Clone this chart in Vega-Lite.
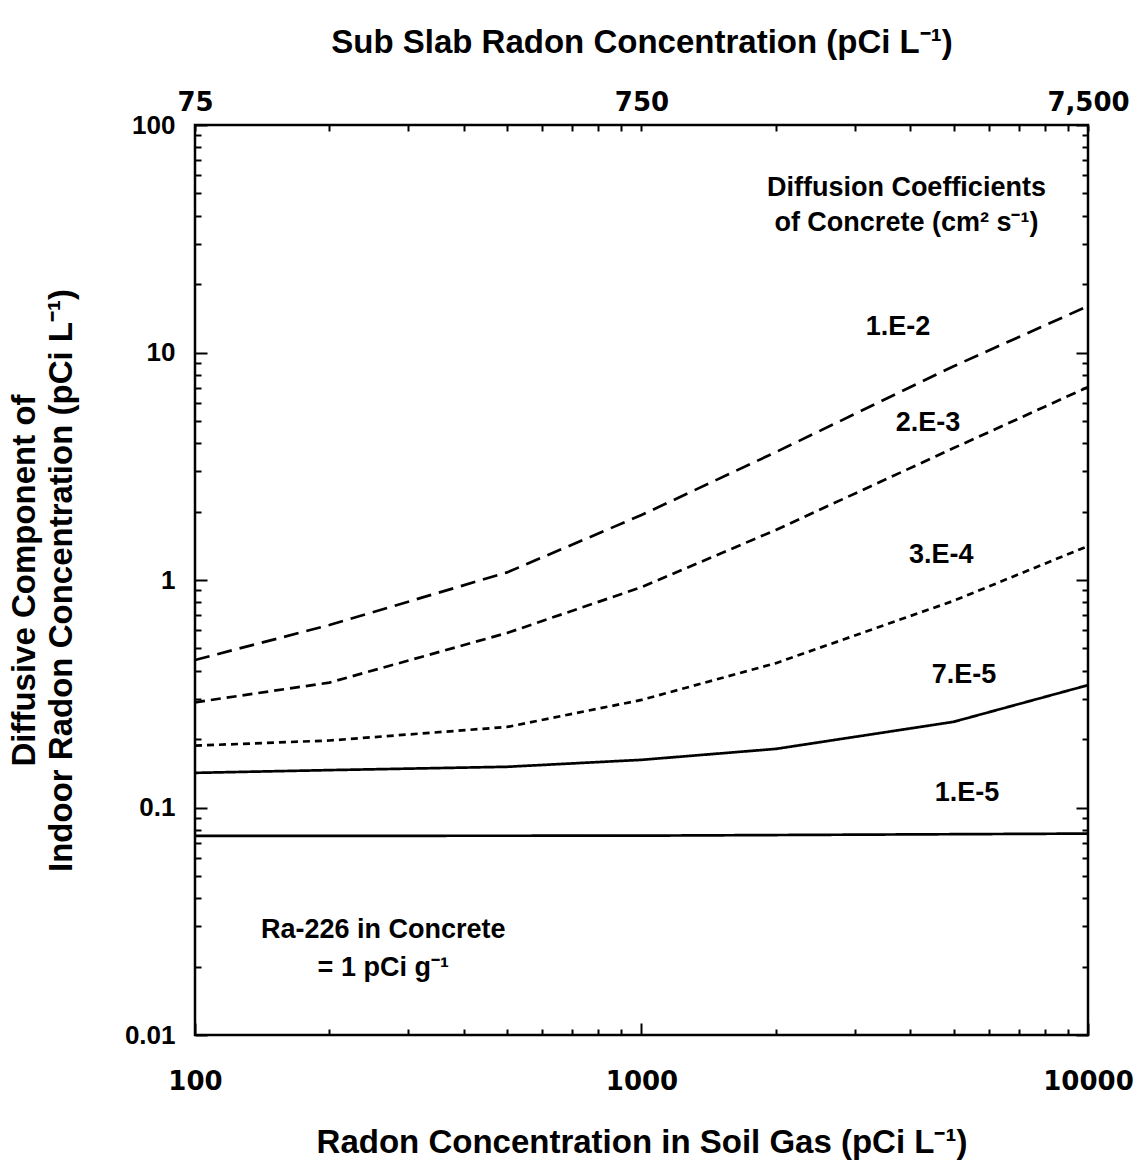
{
  "$schema": "https://vega.github.io/schema/vega-lite/v6.json",
  "width": 893,
  "height": 910,
  "autosize": {"type": "none"},
  "padding": {"left": 195, "top": 125, "right": 57, "bottom": 137},
  "background": "white",
  "config": {
    "view": {"stroke": "black", "strokeWidth": 2.5},
    "font": "Liberation Sans",
    "axis": {
      "domain": false,
      "grid": false,
      "tickColor": "black",
      "tickWidth": 2,
      "labelFont": "Liberation Sans",
      "labelFontWeight": "bold",
      "labelFontSize": 26,
      "labelColor": "black",
      "labelOverlap": false,
      "labelFlush": false,
      "titleFont": "Liberation Sans",
      "titleFontWeight": "bold",
      "titleFontSize": 33,
      "titleColor": "black"
    }
  },
  "datasets": {
    "curves": [
      {"series": "1.E-2", "x": 100, "y": 0.445},
      {"series": "1.E-2", "x": 200, "y": 0.634},
      {"series": "1.E-2", "x": 500, "y": 1.08},
      {"series": "1.E-2", "x": 1000, "y": 1.93},
      {"series": "1.E-2", "x": 2000, "y": 3.65},
      {"series": "1.E-2", "x": 5000, "y": 8.7},
      {"series": "1.E-2", "x": 10000, "y": 16.0},
      {"series": "2.E-3", "x": 100, "y": 0.29},
      {"series": "2.E-3", "x": 200, "y": 0.354},
      {"series": "2.E-3", "x": 500, "y": 0.585},
      {"series": "2.E-3", "x": 1000, "y": 0.93},
      {"series": "2.E-3", "x": 2000, "y": 1.66},
      {"series": "2.E-3", "x": 5000, "y": 3.8},
      {"series": "2.E-3", "x": 10000, "y": 7.05},
      {"series": "3.E-4", "x": 100, "y": 0.187},
      {"series": "3.E-4", "x": 200, "y": 0.197},
      {"series": "3.E-4", "x": 500, "y": 0.226},
      {"series": "3.E-4", "x": 1000, "y": 0.297},
      {"series": "3.E-4", "x": 2000, "y": 0.431},
      {"series": "3.E-4", "x": 5000, "y": 0.81},
      {"series": "3.E-4", "x": 10000, "y": 1.41},
      {"series": "7.E-5", "x": 100, "y": 0.142},
      {"series": "7.E-5", "x": 200, "y": 0.146},
      {"series": "7.E-5", "x": 500, "y": 0.151},
      {"series": "7.E-5", "x": 1000, "y": 0.162},
      {"series": "7.E-5", "x": 2000, "y": 0.181},
      {"series": "7.E-5", "x": 5000, "y": 0.238},
      {"series": "7.E-5", "x": 10000, "y": 0.345},
      {"series": "1.E-5", "x": 100, "y": 0.075},
      {"series": "1.E-5", "x": 1000, "y": 0.0752},
      {"series": "1.E-5", "x": 10000, "y": 0.0768}
    ],
    "notes": [
      {"text": "1.E-2", "x": 3754, "y": 12.9},
      {"text": "2.E-3", "x": 4383, "y": 4.9},
      {"text": "3.E-4", "x": 4690, "y": 1.29},
      {"text": "7.E-5", "x": 5277, "y": 0.382},
      {"text": "1.E-5", "x": 5357, "y": 0.116},
      {"text": "Diffusion Coefficients", "x": 3920, "y": 52.8},
      {"text": "of Concrete (cm² s⁻¹)", "x": 3920, "y": 37.1},
      {"text": "Ra-226 in Concrete", "x": 264, "y": 0.029},
      {"text": "= 1 pCi g⁻¹", "x": 264, "y": 0.0197}
    ]
  },
  "layer": [
    {
      "data": {"name": "curves"},
      "mark": {"type": "line", "color": "black", "strokeWidth": 2.7},
      "encoding": {
        "x": {
          "field": "x", "type": "quantitative",
          "scale": {"type": "log", "domain": [100, 10000], "nice": false},
          "axis": {
            "orient": "bottom",
            "title": "Radon Concentration in Soil Gas (pCi L⁻¹)",
            "values": [100, 200, 300, 400, 500, 600, 700, 800, 900, 1000, 2000, 3000, 4000, 5000, 6000, 7000, 8000, 9000, 10000],
            "labelExpr": "datum.value == 100 ? '100' : datum.value == 1000 ? '1000' : datum.value == 10000 ? '10000' : ''",
            "labelFont": "DejaVu Sans",
            "tickSize": {"condition": {"test": "indexof([100,1000,10000], datum.value) >= 0", "value": -12}, "value": -6},
            "labelPadding": 45,
            "titlePadding": 26
          }
        },
        "y": {
          "field": "y", "type": "quantitative",
          "scale": {"type": "log", "domain": [0.01, 100], "nice": false},
          "axis": {
            "orient": "left",
            "title": ["Diffusive Component of", "Indoor Radon Concentration (pCi L⁻¹)"],
            "titleLineHeight": 37,
            "values": [0.01, 0.02, 0.03, 0.04, 0.05, 0.06, 0.07, 0.08, 0.09, 0.1, 0.2, 0.3, 0.4, 0.5, 0.6, 0.7, 0.8, 0.9, 1, 2, 3, 4, 5, 6, 7, 8, 9, 10, 20, 30, 40, 50, 60, 70, 80, 90, 100],
            "labelExpr": "datum.value == 100 ? '100' : datum.value == 10 ? '10' : datum.value == 1 ? '1' : datum.value == 0.1 ? '0.1' : datum.value == 0.01 ? '0.01' : ''",
            "tickSize": {"condition": {"test": "indexof([0.01,0.1,1,10,100], datum.value) >= 0", "value": -12}, "value": -6},
            "labelPadding": 32,
            "titlePadding": 46
          }
        },
        "detail": {"field": "series"},
        "strokeDash": {
          "field": "series", "type": "nominal",
          "scale": {
            "domain": ["1.E-2", "2.E-3", "3.E-4", "7.E-5", "1.E-5"],
            "range": [[15, 8], [10, 6], [7, 5], [1, 0], [1, 0]]
          },
          "legend": null
        }
      }
    },
    {
      "data": {"name": "notes"},
      "mark": {"type": "text", "font": "Liberation Sans", "fontWeight": "bold", "fontSize": 27, "color": "black", "align": "center", "baseline": "middle"},
      "encoding": {
        "x": {
          "field": "x", "type": "quantitative",
          "axis": {
            "orient": "top",
            "title": "Sub Slab Radon Concentration (pCi L⁻¹)",
            "values": [100, 200, 300, 400, 500, 600, 700, 800, 900, 1000, 2000, 3000, 4000, 5000, 6000, 7000, 8000, 9000, 10000],
            "labelExpr": "datum.value == 100 ? '75' : datum.value == 1000 ? '750' : datum.value == 10000 ? '7,500' : ''",
            "labelFont": "DejaVu Sans",
            "tickSize": -6,
            "labelPadding": 16,
            "titlePadding": 30
          }
        },
        "y": {
          "field": "y", "type": "quantitative",
          "axis": {
            "orient": "right",
            "title": null,
            "labels": false,
            "values": [0.01, 0.02, 0.03, 0.04, 0.05, 0.06, 0.07, 0.08, 0.09, 0.1, 0.2, 0.3, 0.4, 0.5, 0.6, 0.7, 0.8, 0.9, 1, 2, 3, 4, 5, 6, 7, 8, 9, 10, 20, 30, 40, 50, 60, 70, 80, 90, 100],
            "tickSize": {"condition": {"test": "indexof([0.01,0.1,1,10,100], datum.value) >= 0", "value": -12}, "value": -6}
          }
        },
        "text": {"field": "text"}
      }
    }
  ],
  "resolve": {"axis": {"x": "independent", "y": "independent"}}
}
